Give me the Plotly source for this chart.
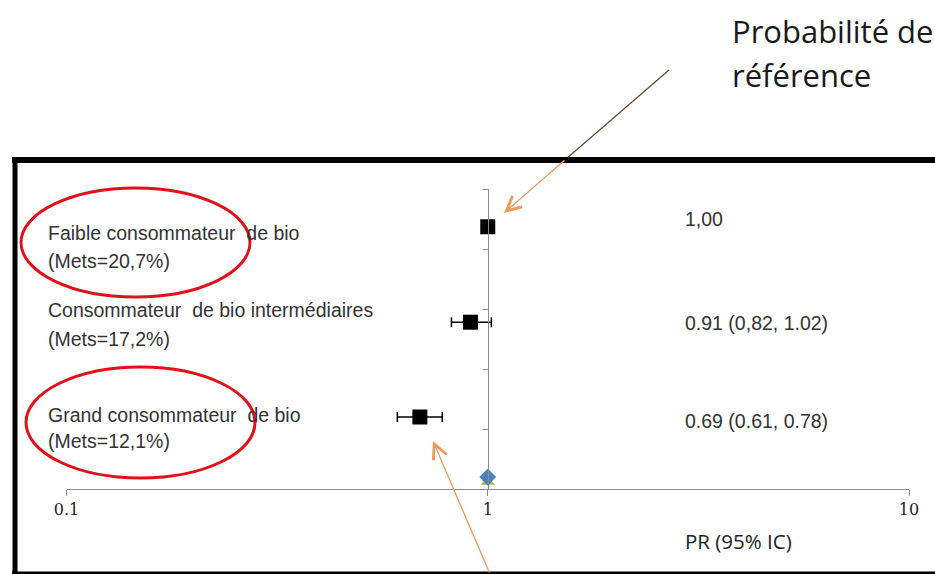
import plotly.graph_objects as go

# ---- data ----
groups = ["Faible consommateur  de bio",
          "Consommateur  de bio intermédiaires",
          "Grand consommateur  de bio"]
mets = ["(Mets=20,7%)", "(Mets=17,2%)", "(Mets=12,1%)"]
pr = [1.00, 0.91, 0.69]
ci_low = [1.00, 0.82, 0.61]
ci_high = [1.00, 1.02, 0.78]
pr_text = ["1,00", "0.91 (0,82, 1.02)", "0.69 (0.61, 0.78)"]
x_tickvals = [0.1, 1, 10]
x_ticktext = ["0.1", "1", "10"]

# ---- layout helpers ----
W, H = 935, 574
row_y = [4.37, 2.78, 1.2]          # vertical slot of each group on the y axis
ref_diamond_y, ref_triangle_y = 0.2, 0.12


def px(x):
    return x / W


def py(y):
    return 1 - y / H


fig = go.Figure()

# reference-series markers at PR = 1
fig.add_trace(go.Scatter(x=[1], y=[ref_triangle_y], mode="markers",
                         marker=dict(symbol="triangle-up", size=12, color="#9BBB59"),
                         hoverinfo="skip"))
fig.add_trace(go.Scatter(x=[1], y=[ref_diamond_y], mode="markers",
                         marker=dict(symbol="diamond", size=13, color="#4F81BD"),
                         hoverinfo="skip"))

# point estimates with 95% CI
err_plus = [h - p for h, p in zip(ci_high, pr)]
err_minus = [p - l for p, l in zip(pr, ci_low)]
fig.add_trace(go.Scatter(
    x=pr, y=row_y, mode="markers",
    marker=dict(symbol="square", size=15, color="black"),
    error_x=dict(type="data", symmetric=False, array=err_plus, arrayminus=err_minus,
                 color="black", thickness=1.5, width=5),
    hoverinfo="skip"))

font_lbl = dict(family="Arial, Liberation Sans", size=19.5, color="#333333")

ann = []
# group labels (two lines each)
line1_y = [233, 310, 415]
line2_y = [261, 339, 441]
for g, m, y1, y2 in zip(groups, mets, line1_y, line2_y):
    ann.append(dict(x=px(46), y=py(y1), xref="paper", yref="paper", text=g,
                    showarrow=False, xanchor="left", yanchor="middle", font=font_lbl))
    ann.append(dict(x=px(46), y=py(y2), xref="paper", yref="paper", text=m,
                    showarrow=False, xanchor="left", yanchor="middle", font=font_lbl))

# PR (95% CI) column
val_y = [219, 323, 421]
for t, y in zip(pr_text, val_y):
    ann.append(dict(x=px(683), y=py(y), xref="paper", yref="paper", text=t,
                    showarrow=False, xanchor="left", yanchor="middle", font=font_lbl))

ann.append(dict(x=px(683), y=py(541), xref="paper", yref="paper", text="PR (95% IC)",
                showarrow=False, xanchor="left", yanchor="middle",
                font=dict(family="Open Sans", size=20.5, color="#222222")))

# callout title
title_font = dict(family="Open Sans", size=31, color="#1a1a1a")
ann.append(dict(x=px(730), y=py(31), xref="paper", yref="paper", text="Probabilité de",
                showarrow=False, xanchor="left", yanchor="middle", font=title_font))
ann.append(dict(x=px(730), y=py(75), xref="paper", yref="paper", text="référence",
                showarrow=False, xanchor="left", yanchor="middle", font=title_font))

# callout arrows
arrow_col = "#EE9A5A"
ann.append(dict(x=px(504), y=py(213), xref="paper", yref="paper", text="",
                showarrow=True, ax=566 - 504, ay=159 - 213, arrowhead=5, arrowsize=2.2,
                arrowwidth=1.3, arrowcolor=arrow_col, standoff=0))
ann.append(dict(x=px(433), y=py(441), xref="paper", yref="paper", text="",
                showarrow=True, ax=490 - 433, ay=585 - 441, arrowhead=5, arrowsize=2.2,
                arrowwidth=1.3, arrowcolor=arrow_col, standoff=0))

shapes = [
    # dark upper part of the reference arrow
    dict(type="line", xref="paper", yref="paper", x0=px(669), y0=py(70), x1=px(566), y1=py(159),
         line=dict(color="#6a4a32", width=1.3)),
    # red highlight ellipses
    dict(type="circle", xref="paper", yref="paper", x0=px(21), x1=px(250), y0=py(188), y1=py(297),
         line=dict(color="#E3101A", width=3)),
    dict(type="circle", xref="paper", yref="paper", x0=px(26), x1=px(255), y0=py(367), y1=py(478),
         line=dict(color="#E3101A", width=3)),
    # slide frame
    dict(type="line", xref="paper", yref="paper", x0=px(12), x1=px(940), y0=py(160), y1=py(160),
         line=dict(color="black", width=6)),
    dict(type="line", xref="paper", yref="paper", x0=px(15), x1=px(15), y0=py(157), y1=py(580),
         line=dict(color="black", width=5)),
    dict(type="line", xref="paper", yref="paper", x0=px(12), x1=px(940), y0=py(573), y1=py(573),
         line=dict(color="black", width=3)),
]

fig.update_layout(
    width=W, height=H,
    margin=dict(l=0, r=0, t=0, b=0, autoexpand=False),
    paper_bgcolor="white", plot_bgcolor="white",
    showlegend=False,
    annotations=ann,
    shapes=shapes,
    xaxis=dict(type="log", range=[-1, 1], domain=[px(66.5), px(909)],
               tickvals=x_tickvals, ticktext=x_ticktext,
               ticks="outside", ticklen=6, tickcolor="#8c8c8c",
               showline=True, linecolor="#8c8c8c", linewidth=1,
               showgrid=False, zeroline=False,
               tickfont=dict(family="DejaVu Serif", size=16, color="#222222")),
    yaxis=dict(range=[0, 5], domain=[py(489), py(189)], anchor="free",
               position=px(488), dtick=1,
               ticks="outside", ticklen=5, tickcolor="#8c8c8c",
               showline=True, linecolor="#8c8c8c", linewidth=1,
               showticklabels=False, showgrid=False, zeroline=False),
)

fig.write_html("out.html")
